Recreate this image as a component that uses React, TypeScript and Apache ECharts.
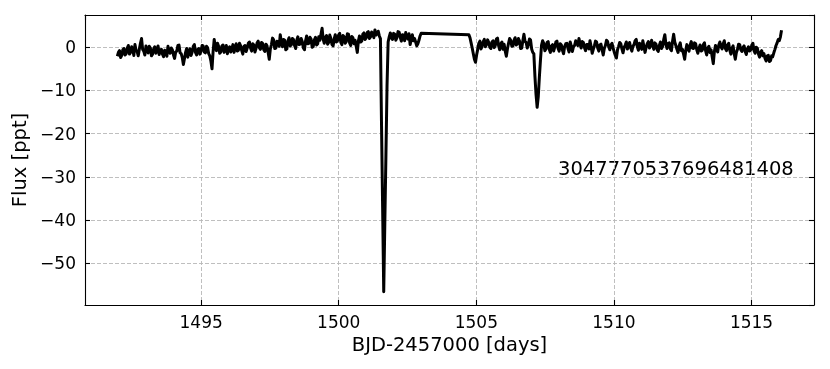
import React, { useEffect, useRef } from 'react';
import * as echarts from 'echarts';

// Fixed cadence grid (days) for the two data segments
const cadence = 0.04;
const seg1Start = 1491.955;
const seg2Start = 1504.73;

// Flux [ppt], segment 1 (before the data gap)
const seg1Flux = [
  -2.1, -1.2, -0.8, -2.4, -1.9, -0.6, -0.3, -1.8, -1.5, -0.2, 0.4, -1.6, -1.2, 0.1, -0.6, -1.9, 0.6, -0.7, -1.0, -2.0,
  -0.4, 0.9, 2.0, -0.5, -0.9, -1.8, 0.3, -0.8, -1.3, 0.2, -0.2, -2.0, -1.6, -0.4, 0.1, -1.4, -0.8, 0.3, -1.7, -0.6,
  -0.5, -1.6, -2.2, -0.7, -1.0, -2.1, 0.2, -0.9, -1.4, -0.2, -0.6, -1.8, -2.6, -1.1, -0.9, 0.4, 0.5, -1.3, -1.5, -2.4,
  -4.0, -2.6, -1.2, -0.3, -2.3, -1.0, -0.4, -1.9, -1.1, 0.2, 0.6, -1.2, -1.8, -0.5, -0.3, -1.6, -1.0, 0.4, 0.3, -1.1,
  -1.3, 0.2, -0.1, -1.5, -2.0, -3.2, -5.0, -1.0, 1.8, 0.2, -0.8, 0.9, 0.2, -1.4, -1.1, 0.3, 0.5, -1.2, -0.6, 0.4,
  -1.5, -0.3, 0.1, -1.1, -0.4, 0.6, -1.2, -0.2, 0.8, -0.9, -0.7, 0.9, 0.3, -0.8, -1.6, 0.2, 0.4, -1.0, -0.2, 0.9,
  1.2, -0.2, -0.9, 0.8, 0.5, -1.1, -0.3, 1.0, 1.4, -0.1, -0.5, 1.1, 0.9, -0.6, -1.0, 0.7, 0.3, -1.2, -2.8, -0.4,
  0.6, 2.1, 1.7, -0.3, -0.2, 1.4, 1.0, 0.2, 2.9, 1.2, 0.1, 1.8, 1.6, -0.6, -0.4, 1.5, 2.2, 0.3, 0.5, 2.0,
  1.8, 0.4, -0.3, 1.6, 2.4, 0.6, 0.7, 2.0, 1.3, -0.2, -0.6, 1.5, 2.6, 0.8, 0.9, 2.3, 1.9, 0.0, 0.2, 1.7,
  2.3, 0.5, 0.8, 2.4, 1.6, 3.0, 4.4, 1.8, 0.9, 2.3, 2.7, 0.7, 1.1, 2.8, 2.0, 0.6, 0.3, 1.9, 2.9, 1.2,
  1.5, 2.8, 3.2, 1.1, 0.6, 2.7, 2.4, 0.9, 1.3, 3.1, 3.0, 1.0, 0.4, 2.5, 2.2, 0.8, 1.6, 0.2, -1.2, 1.5,
  2.6, 1.2, 1.4, 3.0, 3.3, 1.8, 2.1, 3.4, 3.6, 2.0, 2.4, 3.5, 3.1, 2.2, 4.0, 2.8, 3.2, 3.7, 2.6, 2.0,
  -18.0, -37.0, -56.6, -40.6, -25.0, -9.0, 1.2,
  2.4,
  3.3, 2.1, 1.8, 3.2, 3.0, 1.6, 2.2, 3.6, 3.5, 2.3, 1.4, 2.9, 2.8, 1.5, 3.4, 2.4, 1.9, 3.1,
  0.6, 1.8, 2.9, 1.5, 2.0, 1.2, 0.3, 0.8, 1.6, 2.6, 3.2,
];

// Flux [ppt], segment 2 (after the data gap)
const seg2Flux = [
  2.9, 2.2, 1.0, -0.2, -1.5, -2.8, -3.5, -1.8,
  -0.5, 0.9, 1.4, -0.4, 0.2, 1.3, 1.8, 0.1, 0.6, 1.7, 1.1, 0.0,
  -0.3, 1.2, 1.5, -0.1, 0.4, 1.9, 2.1, 0.3, -0.6, 0.8, 1.2, -0.5, 0.7, -0.9, -2.1, -0.4, 0.9, 2.0, 1.6, 0.2,
  0.3, 1.6, 2.2, 0.5, 0.8, 2.0, 1.4, -0.3, -0.2, 1.5, 3.0, 1.3, 1.1, -0.2, 0.5, 1.9, 1.7, -0.4, -1.2, -1.5,
  -6.8, -11.0, -13.9, -11.5, -7.0, -3.0, 0.5,
  1.5, 0.9, -0.8, -0.4, 1.1, 1.3, -0.5, -1.2, 0.3, 0.6, -0.9, 0.1, 1.2, 1.4, -0.3, -0.9, 0.8, 0.5, -0.7, -1.5, 0.2,
  0.8, 0.9, -0.3, -1.1, 1.2, 0.3, -1.0, 0.1, 0.4, 1.5, 0.9, 0.4, 2.0, 0.8, -0.2, 1.3, 1.1, -0.1, -0.8, 0.6,
  0.6, -0.4, 1.5, 0.2, -1.4, -0.5, 0.3, 1.4, 1.2, -0.2, -0.9, 0.5, 0.7, -0.6, -1.8, -0.3, 0.4, 1.6, 1.3, 0.1,
  -0.6, 0.5, 0.9, -0.2, -1.1, -1.9, -2.5, -0.6, 0.2, 1.1, 0.8, -0.4, -1.3, -0.1, 0.5, 1.2, -0.4, 0.3, 1.1, -0.2,
  -0.9, 0.2, 0.6, 1.5, 1.8, 0.1, -0.7, 0.9, 0.3, -0.5, 1.5, 0.2, -1.2, -0.1, 0.8, 1.3, -0.2, 0.4, 1.6, 0.3,
  -0.5, 1.0, 0.7, -0.6, -1.0, 0.4, 1.2, -0.3, 0.2, 1.8, 2.9, 0.6, -0.3, 0.9, 1.0, -0.4, -0.8, 1.4, 3.0, 1.2,
  0.4, -0.5, -1.2, 0.3, 1.0, -0.8, -0.5, -1.6, -2.8, -0.7, 0.6, -0.4, -0.9, 0.5, 1.3, -0.2, -0.3, 1.0, 0.8, -0.6,
  -1.4, -0.3, 0.5, -0.9, -0.7, 0.6, 1.0, -0.8, -1.8, -0.2, 0.2, -1.2, -0.6, -2.2, -3.8, -1.0, 0.4, -0.5, -1.1, 0.5,
  1.2, 0.1, -0.4, 0.8, 1.5, -0.3, -0.8, 0.5, 0.9, -0.7, -1.6, -0.2, 0.3, -1.5, -2.8, -1.2, -0.5, 0.7, 0.6, -0.6,
  -1.0, -0.1, 0.3, -1.0, -1.7, -0.4, 0.1, -0.9, -0.6, 0.5, 0.9, -0.8, -1.4, 0.0, -0.2, -1.5, -2.3, -1.2, -0.8, -2.0,
  -1.5, -2.6, -3.2, -2.0, -1.9, -3.3, -3.1, -2.0, -2.2, -1.3, -0.5, 0.4, 1.0, 1.8, 1.5, 2.4, 3.9,
];

const xRange = [1490.78, 1517.27];
const yRange = [-59.65, 7.45];
const xLabel = 'BJD-2457000 [days]';
const yLabel = 'Flux [ppt]';
const targetId = '3047770537696481408';

const FONT = 'DejaVu Sans';

function buildData(): [number, number][] {
  const out: [number, number][] = [];
  seg1Flux.forEach((f, i) => out.push([seg1Start + i * cadence, f]));
  seg2Flux.forEach((f, i) => out.push([seg2Start + i * cadence, f]));
  return out;
}

const fmt = (v: number) => (v < 0 ? '\u2212' + Math.abs(v) : String(v));

export default function App() {
  const ref = useRef<HTMLDivElement>(null);
  useEffect(() => {
    if (!ref.current) return;
    const chart = echarts.init(ref.current, undefined, { renderer: 'svg' });
    const gridLine = { show: true, lineStyle: { color: '#b8b8b8', width: 0.9, type: [4, 2] as any } };
    const axisLine = { show: true, onZero: false, lineStyle: { color: '#000', width: 1.1 } };
    const tick = { show: true, inside: true, length: 5, lineStyle: { color: '#000', width: 1.1 } };
    chart.setOption({
      animation: false,
      grid: { left: 85, top: 15, width: 729, height: 290, containLabel: false },
      xAxis: [
        {
          type: 'value', min: xRange[0], max: xRange[1], position: 'bottom',
          axisLine, axisTick: tick, splitLine: gridLine,
          axisLabel: { show: true, showMinLabel: false, showMaxLabel: false, margin: 8, fontSize: 17, fontFamily: FONT, color: '#000', formatter: fmt },
          name: xLabel, nameLocation: 'middle', nameGap: 29,
          nameTextStyle: { fontSize: 19.5, fontFamily: FONT, color: '#000' },
        },
        {
          type: 'value', min: xRange[0], max: xRange[1], position: 'top',
          axisLine, axisTick: tick, splitLine: { show: false }, axisLabel: { show: false },
        },
      ],
      yAxis: [
        {
          type: 'value', min: yRange[0], max: yRange[1], position: 'left',
          axisLine, axisTick: tick, splitLine: gridLine,
          axisLabel: { show: true, showMinLabel: false, showMaxLabel: false, margin: 9, fontSize: 17, fontFamily: FONT, color: '#000', formatter: fmt },
          name: yLabel, nameLocation: 'middle', nameGap: 53,
          nameTextStyle: { fontSize: 19.5, fontFamily: FONT, color: '#000' },
        },
        {
          type: 'value', min: yRange[0], max: yRange[1], position: 'right',
          axisLine, axisTick: tick, splitLine: { show: false }, axisLabel: { show: false },
        },
      ],
      graphic: [
        {
          type: 'text', left: 558, top: 158,
          style: { text: targetId, font: `19.5px "${FONT}"`, fill: '#000' },
        },
      ],
      series: [
        {
          type: 'line', xAxisIndex: 0, yAxisIndex: 0,
          data: buildData(), symbol: 'none', showSymbol: false,
          lineStyle: { color: '#000', width: 3, join: 'round' }, z: 5,
        },
      ],
    });
    return () => chart.dispose();
  }, []);
  return <div ref={ref} style={{ position: 'fixed', left: 0, top: 0, width: 830, height: 369 }} />;
}
